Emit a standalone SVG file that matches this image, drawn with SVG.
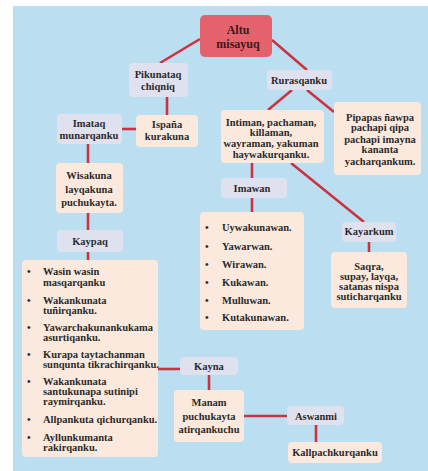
<svg xmlns="http://www.w3.org/2000/svg" width="428" height="471" viewBox="0 0 428 471">
<style>
text{font-family:"Liberation Serif","Times New Roman",serif;font-weight:bold;font-size:10.5px;fill:#2b2b2b}
.c{text-anchor:middle}
.big{font-size:12px;fill:#3a1a1a}
.pe{fill:#fbe9dd}
.la{fill:#dfe1ef}
.rd{fill:#e4626b}
.ln{stroke:#cc3340;stroke-width:2.6;fill:none}
</style>
<rect x="13" y="6" width="415" height="465" fill="#bbdff0"/>
<g id="connectors">
<line class="ln" x1="200" y1="39" x2="160" y2="63"/>
<line class="ln" x1="272" y1="40" x2="307" y2="70"/>
<line class="ln" x1="167" y1="97" x2="167" y2="115"/>
<line class="ln" x1="122" y1="129" x2="136" y2="129"/>
<line class="ln" x1="88" y1="144" x2="88" y2="163"/>
<line class="ln" x1="88" y1="213" x2="88" y2="230"/>
<line class="ln" x1="88" y1="252" x2="88" y2="260"/>
<line class="ln" x1="292" y1="90" x2="268" y2="110"/>
<line class="ln" x1="307" y1="90" x2="334" y2="112"/>
<line class="ln" x1="252" y1="163" x2="252" y2="178"/>
<line class="ln" x1="252" y1="198" x2="252" y2="212"/>
<line class="ln" x1="291" y1="163" x2="364" y2="222"/>
<line class="ln" x1="369" y1="242" x2="369" y2="252"/>
<line class="ln" x1="157" y1="369" x2="180" y2="369"/>
<line class="ln" x1="209" y1="375" x2="209" y2="390"/>
<line class="ln" x1="244" y1="416" x2="287" y2="416"/>
<line class="ln" x1="316" y1="425" x2="316" y2="442"/>
</g>
<g id="altu"><rect class="rd" x="200" y="15" width="72" height="42" rx="5"/><text class="c big" x="238" y="34">Altu</text><text class="c big" x="238" y="48">misayuq</text></g>
<g id="pikunataq"><rect class="la" x="129" y="63" width="59" height="34" rx="4"/><text class="c" x="158" y="78">Pikunataq</text><text class="c" x="158" y="90">chiqniq</text></g>
<g id="ispana"><rect class="pe" x="136" y="115" width="62" height="32" rx="4"/><text class="c" x="167" y="128">Ispaña</text><text class="c" x="167" y="140">kurakuna</text></g>
<g id="imataq"><rect class="la" x="57" y="114" width="65" height="30" rx="4"/><text class="c" x="89" y="127">Imataq</text><text class="c" x="89" y="139">munarqanku</text></g>
<g id="wisakuna"><rect class="pe" x="56" y="163" width="67" height="50" rx="4"/><text class="c" x="89" y="179">Wisakuna</text><text class="c" x="89" y="193">layqakuna</text><text class="c" x="89" y="206">puchukayta.</text></g>
<g id="kaypaq"><rect class="la" x="57" y="230" width="66" height="22" rx="4"/><text class="c" x="90" y="245">Kaypaq</text></g>
<g id="kaypaq-list"><rect class="pe" x="22" y="260" width="136" height="197" rx="4"/>
<text x="27" y="275">•</text><text x="43" y="275">Wasin wasin</text><text x="43" y="286">masqarqanku</text>
<text x="27" y="304">•</text><text x="43" y="304">Wakankunata</text><text x="43" y="314">tuñirqanku.</text>
<text x="27" y="331">•</text><text x="43" y="331">Yawarchakunankukama</text><text x="43" y="341">asurtiqanku.</text>
<text x="27" y="358">•</text><text x="43" y="358">Kurapa taytachanman</text><text x="43" y="368">sunqunta tikrachirqanku.</text>
<text x="27" y="385">•</text><text x="43" y="385">Wakankunata</text><text x="43" y="395">santukunapa sutinipi</text><text x="43" y="405">raymirqanku.</text>
<text x="27" y="423">•</text><text x="43" y="423">Allpankuta qichurqanku.</text>
<text x="27" y="441">•</text><text x="43" y="441">Ayllunkumanta</text><text x="43" y="451">rakirqanku.</text></g>
<g id="rurasqanku"><rect class="la" x="267" y="70" width="65" height="20" rx="4"/><text class="c" x="299" y="84">Rurasqanku</text></g>
<g id="intiman"><rect class="pe" x="221" y="110" width="103" height="53" rx="4"/><text class="c" x="271" y="126">Intiman, pachaman,</text><text class="c" x="271" y="136">killaman,</text><text class="c" x="271" y="147">wayraman, yakuman</text><text class="c" x="271" y="158">haywakurqanku.</text></g>
<g id="pipapas"><rect class="pe" x="334" y="102" width="87" height="73" rx="4"/><text class="c" x="380" y="121">Pipapas ñawpa</text><text class="c" x="380" y="131">pachapi qipa</text><text class="c" x="380" y="143">pachapi imayna</text><text class="c" x="380" y="153">kananta</text><text class="c" x="380" y="165">yacharqankum.</text></g>
<g id="imawan"><rect class="la" x="221" y="178" width="66" height="20" rx="4"/><text class="c" x="252" y="192">Imawan</text></g>
<g id="imawan-list"><rect class="pe" x="200" y="212" width="104" height="118" rx="4"/>
<text x="205" y="231">•</text><text x="222" y="231">Uywakunawan.</text>
<text x="205" y="250">•</text><text x="222" y="250">Yawarwan.</text>
<text x="205" y="268">•</text><text x="222" y="268">Wirawan.</text>
<text x="205" y="286">•</text><text x="222" y="286">Kukawan.</text>
<text x="205" y="304">•</text><text x="222" y="304">Mulluwan.</text>
<text x="205" y="321">•</text><text x="222" y="321">Kutakunawan.</text></g>
<g id="kayarkum"><rect class="la" x="342" y="222" width="54" height="20" rx="4"/><text class="c" x="369" y="235">Kayarkum</text></g>
<g id="saqra"><rect class="pe" x="331" y="252" width="76" height="56" rx="4"/><text class="c" x="369" y="270">Saqra,</text><text class="c" x="369" y="280">supay, layqa,</text><text class="c" x="369" y="290">satanas nispa</text><text class="c" x="369" y="300">suticharqanku</text></g>
<g id="kayna"><rect class="la" x="180" y="357" width="58" height="18" rx="4"/><text class="c" x="209" y="370">Kayna</text></g>
<g id="manam"><rect class="pe" x="174" y="390" width="70" height="52" rx="4"/><text class="c" x="209" y="406">Manam</text><text class="c" x="209" y="420">puchukayta</text><text class="c" x="209" y="433">atirqankuchu</text></g>
<g id="aswanmi"><rect class="la" x="287" y="406" width="57" height="19" rx="4"/><text class="c" x="316" y="420">Aswanmi</text></g>
<g id="kallpach"><rect class="pe" x="288" y="442" width="94" height="21" rx="4"/><text class="c" x="335" y="456">Kallpachkurqanku</text></g>
</svg>
